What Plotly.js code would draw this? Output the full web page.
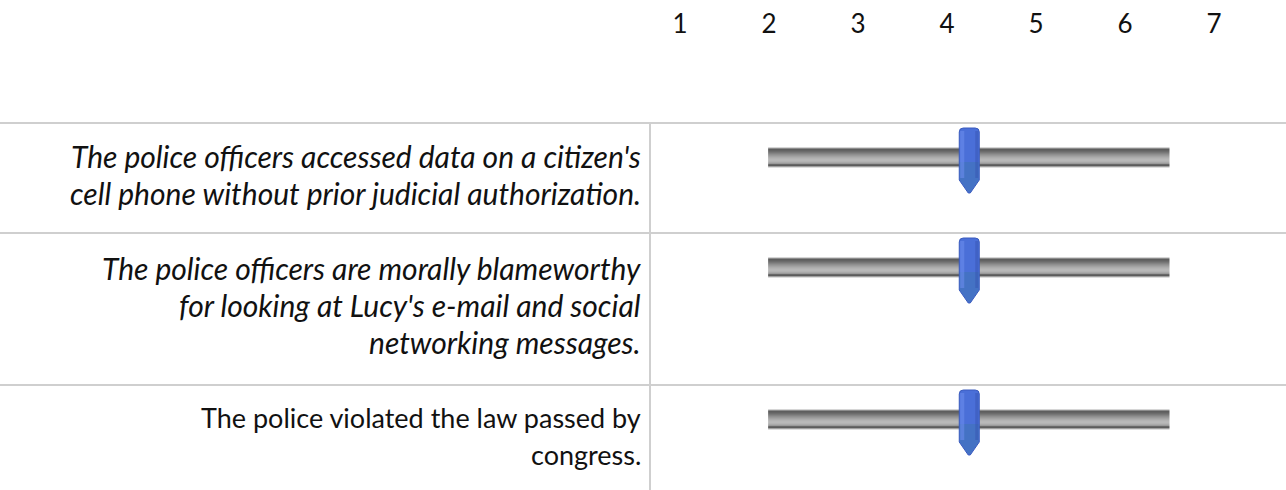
<!DOCTYPE html>
<html>
<head>
<meta charset="utf-8">
<script src="https://cdn.plot.ly/plotly-3.0.1.min.js"></script>
<style>html,body{margin:0;padding:0;background:#fff;}#chart{width:1286px;height:490px;}</style>
</head>
<body>
<div id="chart"></div>
<script>
// ---- data ----
const scaleTicks = [1, 2, 3, 4, 5, 6, 7];
const tickLabels = ['1', '2', '3', '4', '5', '6', '7'];
const statements = [
  ["The police officers accessed data on a citizen's", "cell phone without prior judicial authorization."],
  ["The police officers are morally blameworthy", "for looking at Lucy's e-mail and social", "networking messages."],
  ["The police violated the law passed by", "congress."]
];
const italicRows = [true, true, false];
const ratings = [4.25, 4.25, 4.25];

// ---- layout helpers ----
const W = 1286, H = 490;
const pxPerUnit = 89, onePx = 680;              // pixel position of tick "1"
const xr = [1 - onePx / pxPerUnit, 1 + (W - onePx) / pxPerUnit];
const topMargin = 60;
const firstRowTop = 123, rowLineStep = 42, rowPad = 26;
const textLineH = 37;
const trackMin = 1.99, trackMax = 6.5;
const textRight = 643, divider = 650;
const gridColor = '#cfcfcf';
const fontFam = 'Lato, "Open Sans", sans-serif';

const trackStripes = ['#d6d6d6','#8c8c8c','#5e5e5e','#636363','#6c6c6c','#777777','#838383','#8f8f8f','#999999','#a3a3a3','#acacac','#b3b3b3','#b8b8b8','#b9b9b9','#b4b4b4','#aaaaaa','#9a9a9a','#686868','#5c5c5c','#a0a0a0','#dedede'];

const shapes = [];
const annotations = [];
let rowTop = firstRowTop;
const rowTops = [];
statements.forEach((lines, i) => {
  rowTops.push(rowTop);
  const h = lines.length * rowLineStep + rowPad;
  const center = rowTop + h / 2 - 4;
  lines.forEach((ln, j) => {
    const y = center + (j - (lines.length - 1) / 2) * textLineH;
    annotations.push({
      xref: 'paper', yref: 'y', x: textRight / W, y: y,
      xanchor: 'right', yanchor: 'middle', showarrow: false,
      text: italicRows[i] ? '<i>' + ln + '</i>' : ln,
      font: {family: fontFam, size: italicRows[i] ? 30 : 27, color: '#111'}
    });
  });
  // row separator
  shapes.push({type: 'line', xref: 'paper', yref: 'y', x0: 0, x1: 1, y0: rowTop, y1: rowTop,
               line: {color: gridColor, width: 2}, layer: 'below'});
  // track stripes
  trackStripes.forEach((c, k) => {
    shapes.push({type: 'rect', xref: 'x', yref: 'y', x0: trackMin, x1: trackMax,
                 y0: rowTop + 24 + k, y1: rowTop + 25 + k, fillcolor: c, line: {width: 0}});
  });
  rowTop += h;
});
// vertical divider
shapes.push({type: 'line', xref: 'paper', yref: 'y', x0: divider / W, x1: divider / W,
             y0: firstRowTop, y1: H, line: {color: gridColor, width: 2}, layer: 'below'});

// slider handles, positioned by rating value
const halfW = 10 / pxPerUnit, rx = 4 / pxPerUnit;
ratings.forEach((v, i) => {
  const t = rowTops[i] + 5, ys = t + 52, yb = t + 65;
  const xl = v - halfW, xrr = v + halfW;
  const body = `M ${xl},${t + 4} Q ${xl},${t} ${xl + rx},${t} L ${xrr - rx},${t} Q ${xrr},${t} ${xrr},${t + 4} L ${xrr},${ys} L ${v + 1/pxPerUnit},${yb} L ${v - 1/pxPerUnit},${yb} L ${xl},${ys} Z`;
  shapes.push({type: 'path', xref: 'x', yref: 'y', path: body, fillcolor: '#4a6fd8', line: {color: '#3a5bbd', width: 1}});
  // lower steel-blue tint
  const low = `M ${xl + 0.5/pxPerUnit},${t + 34} L ${xrr - 0.5/pxPerUnit},${t + 34} L ${xrr - 0.5/pxPerUnit},${ys} L ${v + 1/pxPerUnit},${yb - 1} L ${v - 1/pxPerUnit},${yb - 1} L ${xl + 0.5/pxPerUnit},${ys} Z`;
  shapes.push({type: 'path', xref: 'x', yref: 'y', path: low, fillcolor: '#3f74b4', opacity: 0.55, line: {width: 0}});
  // left highlight
  shapes.push({type: 'rect', xref: 'x', yref: 'y', x0: xl + 1/pxPerUnit, x1: xl + 5/pxPerUnit,
               y0: t + 3, y1: ys - 2, fillcolor: '#6b8cec', opacity: 0.6, line: {width: 0}});
  // right shade
  shapes.push({type: 'rect', xref: 'x', yref: 'y', x0: xrr - 4/pxPerUnit, x1: xrr - 1/pxPerUnit,
               y0: t + 3, y1: ys - 2, fillcolor: '#3553b0', opacity: 0.45, line: {width: 0}});
});

// invisible trace so the axes render
const traces = [{x: ratings, y: rowTops.map(r => r + 34), type: 'scatter', mode: 'markers',
  marker: {size: 1, color: 'rgba(0,0,0,0)'}, hoverinfo: 'x', showlegend: false}];

const layout = {
  width: W, height: H,
  margin: {l: 0, r: 0, t: topMargin, b: 0, pad: 0},
  paper_bgcolor: '#fff', plot_bgcolor: '#fff',
  showlegend: false,
  xaxis: {range: xr, side: 'top', tickvals: scaleTicks, ticktext: tickLabels,
          showgrid: false, zeroline: false, showline: false,
          ticks: 'outside', ticklen: 16, tickcolor: 'rgba(0,0,0,0)',
          tickfont: {family: fontFam, size: 26, color: '#111'}, fixedrange: true},
  yaxis: {range: [H, topMargin], visible: false, fixedrange: true},
  shapes: shapes,
  annotations: annotations
};
Plotly.newPlot('chart', traces, layout, {displayModeBar: false, staticPlot: true});
</script>
</body>
</html>
